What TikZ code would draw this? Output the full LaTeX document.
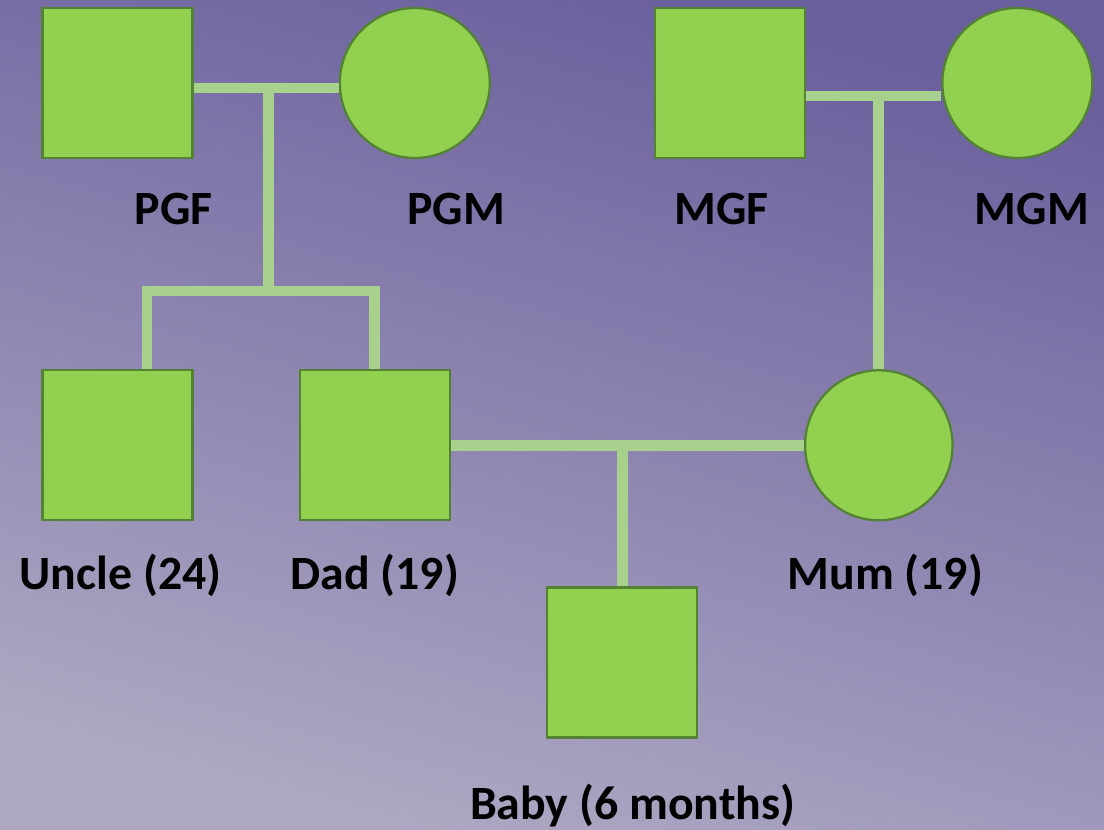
\documentclass[tikz,border=0pt]{standalone}
\usepackage{fontspec}
\setmainfont{Carlito}
\usepackage{xcolor}
\usetikzlibrary{
arrows.meta,
positioning,
shapes,
backgrounds
}
\definecolor{bgtop}{HTML}{6A5F9D}
\definecolor{bgbot}{HTML}{AEA8C3}
\definecolor{kinfill}{HTML}{92D050}
\definecolor{kinedge}{HTML}{548235}
\definecolor{kinline}{HTML}{A9D18E}

\begin{document}
\begin{tikzpicture}[
    male/.style={rectangle, draw=kinedge, line width=1.3pt, fill=kinfill, minimum size=3cm, inner sep=0pt},
    female/.style={ellipse, draw=kinedge, line width=1.3pt, fill=kinfill, minimum width=3cm, minimum height=3cm, inner sep=0pt},
    who/.style={font=\bfseries\fontsize{27.2pt}{30pt}\selectfont, inner sep=0pt},
    rel/.style={draw=kinline, line width=6.2pt}
  ]
    \shade[top color=bgtop, bottom color=bgbot, shading angle=-15] (0,0) rectangle (22.08,-16.6);
    \useasboundingbox (0,0) rectangle (22.08,-16.6);

    \node[male] (PGF) at (2.35,-1.66) {};
    \node[female, right = 2.9cm of PGF] (PGM) {};
    \node[male, right = 3.26cm of PGM] (MGF) {};
    \node[female, right = 2.7cm of MGF] (MGM) {};

    \node[male, below = 4.2cm of PGF] (Uncle) {};
    \node[male, right = 2.1cm of Uncle] (Dad) {};
    \node[female, minimum width=2.95cm, right = 7.06cm of Dad] (Mum) {};
    \node[male, below right = 1.3cm and 1.9cm of Dad] (Baby) {};

    \node[who, below = 1.3cm of PGF.south, anchor=base, xshift=1.12cm] (PGFl) {PGF};
    \node[who, below = 1.3cm of PGM.south, anchor=base, xshift=0.83cm] (PGMl) {PGM};
    \node[who, below = 1.3cm of MGF.south, anchor=base, xshift=-0.17cm] (MGFl) {MGF};
    \node[who, below = 1.3cm of MGM.south, anchor=base, xshift=0.29cm] (MGMl) {MGM};
    \node[who, below = 1.36cm of Uncle.south, anchor=base, xshift=0.06cm] (Unclel) {Uncle (24)};
    \node[who, below = 1.36cm of Dad.south, anchor=base] (Dadl) {Dad (19)};
    \node[who, below = 1.36cm of Mum.south, anchor=base, xshift=0.13cm] (Muml) {Mum (19)};
    \node[who, below = 1.62cm of Baby.south, anchor=base, xshift=0.21cm] (Babyl) {Baby (6 months)};

    \coordinate (pc) at ([yshift=-0.1cm]PGF.east);
    \coordinate (pj) at ([xshift=1.5cm]pc);
    \coordinate (sb) at ([yshift=-4.06cm]pj);
    \coordinate (mc) at ([yshift=-0.26cm]MGF.east);

    \draw[rel] (pc) -- (pc -| PGM.west);
    \draw[rel] (pj) -- (sb);
    \draw[rel] ([xshift=0.59cm]Uncle.north) |- (sb) -| (Dad.north);
    \draw[rel] (mc) -- (mc -| MGM.west);
    \draw[rel] (Mum.north) -- (Mum.north |- mc);
    \draw[rel] (Dad.east) -- (Mum.west);
    \draw[rel] (Baby.north) -- (Baby.north |- Dad.east);
  \end{tikzpicture}
\end{document}
